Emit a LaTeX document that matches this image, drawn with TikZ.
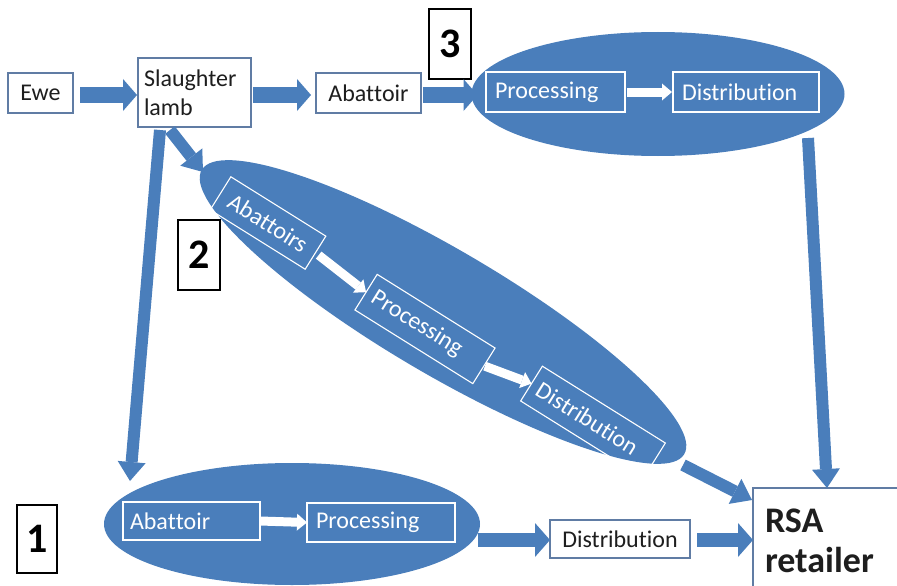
\documentclass[tikz,border=0pt]{standalone}
\usepackage{fontspec}
\setmainfont{Carlito}[Ligatures={NoCommon}]
\usetikzlibrary{arrows.meta,shapes.geometric,calc}
\definecolor{flowblue}{RGB}{74,126,187}
\definecolor{boxline}{RGB}{96,124,164}
\definecolor{labeltext}{RGB}{30,30,30}
% keep t-t and t-i as separate letters
\newcommand{\nlg}{\kern0pt\relax}

\begin{document}
\begin{tikzpicture}[x=1pt,y=-1pt,
  every node/.style={inner sep=0pt, outer sep=0pt},
  txt/.style={font=\fontsize{24}{29}\selectfont},
  wbox/.style={txt, draw=boxline, line width=1.1pt, fill=white, text=labeltext},
  ibox/.style={txt, draw=white, line width=1.1pt, text=white},
  numbox/.style={draw=black, line width=1.3pt, fill=white, text=black,
    font=\bfseries\fontsize{42}{42}\selectfont, minimum width=42pt, minimum height=70pt},
  blob/.style={ellipse, fill=flowblue},
  flow/.style={draw=flowblue, line width=16pt, -{Triangle[length=14pt,width=32pt,line width=0pt]}},
  flowlow/.style={draw=flowblue, line width=14pt, -{Triangle[length=15pt,width=34pt,line width=0pt]}},
  slim/.style={draw=flowblue, line width=12pt, -{Triangle[length=19pt,width=28pt,line width=0pt]}},
  whiteflow/.style={draw=white, line width=9pt, -{Triangle[length=10pt,width=17pt,line width=0pt]}}
]
\useasboundingbox (0,0) rectangle (897,586);

% top row
\node[wbox, minimum width=65pt, minimum height=40pt] (ewe) at (40.5,93) {Ewe};
\node[wbox, text width=101pt, inner xsep=6pt, minimum height=69pt, align=left] (sl) at (194.5,92.5) {Slaughter\\lamb};
\node[wbox, minimum width=105pt, minimum height=40pt] (ab) at (368.5,93) {Abat\nlg toir};

% route 3
\node[blob, minimum width=373pt, minimum height=124pt] (e3) at (658,94) {};
\node[ibox, text width=121pt, inner xsep=9pt, minimum height=40pt, align=left] (p3) at (555.5,92) {Processing};
\node[ibox, text width=128pt, inner xsep=9pt, minimum height=40pt, align=left] (d3) at (746,92) {Distribut\nlg ion};
\node[numbox] (n3) at (450,44) {3};

% route 2
\node[blob, minimum width=560pt, minimum height=124pt, rotate=-30.5] (e2) at (443,312) {};
\node[ibox, rotate=-32, minimum width=112pt, minimum height=39pt] (a2) at (268,223) {Abat\nlg toirs};
\node[ibox, rotate=-32, text width=123pt, inner xsep=8pt, align=left, minimum height=42pt] (p2) at (425,329) {Processing};
\node[ibox, rotate=-32, text width=129pt, inner xsep=8pt, align=left, minimum height=41pt] (d2) at (593,422) {Distribut\nlg ion};
\node[numbox] (n2) at (199,255) {2};

% route 1
\node[blob, minimum width=376pt, minimum height=122pt] (e1) at (292,524) {};
\node[ibox, text width=123pt, inner xsep=7pt, align=left, minimum height=38pt] (a1) at (191.5,521) {Abat\nlg toir};
\node[ibox, text width=130pt, inner xsep=9pt, align=left, minimum height=39pt] (p1) at (381,522.5) {Processing};
\node[numbox, minimum width=40pt, minimum height=68pt] (n1) at (37,539) {1};
\node[wbox, minimum width=140pt, minimum height=38pt] (d1) at (620,539) {Distribut\nlg ion};

% retailer
\node[wbox, font=\bfseries\fontsize{36}{40}\selectfont, text width=128pt, inner xsep=12pt,
  align=left, minimum height=106pt] (rsa) at (829,541) {RSA\\retailer};

% connectors
\draw[flow] ($(ewe.east)+(7,2)$) -- ($(sl.west)+(-1,2.5)$);
\draw[flow] ($(sl.east)+(2,2.5)$) -- ($(ab.west)+(-5,2)$);
\draw[flow] ($(ab.east)+(2,2)$) -- ($(e3.west)+(6,1)$);
\draw[whiteflow] ($(p3.east)+(2,0)$) -- ($(d3.west)+(-1,0)$);
\draw[whiteflow, shorten <=4pt] (a2.east) -- (p2.west);
\draw[whiteflow, shorten <=1pt] (p2.east) -- (d2.west);
\draw[whiteflow] (a1.east) -- (p1.west);

\draw[slim] ($(sl.south)+(-34.5,3)$) -- ($(e1.center)+(-162,-43)$);
\draw[slim] ($(sl.south)+(-24.5,3)$) -- ($(e2.center)+(-240,-140)$);
\draw[slim] ($(e3.center)+(150,44)$) -- ($(rsa.north)+(-2,0)$);
\draw[slim] ($(e2.center)+(240,153)$) -- ($(rsa.north west)+(-1,12)$);
\draw[flowlow] ($(e1.east)+(-2,16)$) -- ($(d1.west)+(0,1)$);
\draw[flowlow] ($(d1.east)+(7,1)$) -- ($(rsa.west)+(0,-1)$);
\end{tikzpicture}
\end{document}
